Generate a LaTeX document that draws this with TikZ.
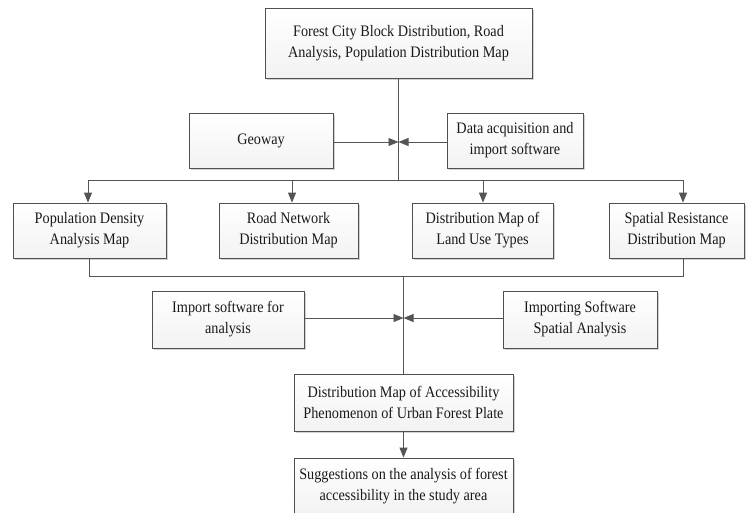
\documentclass[tikz,border=0pt]{standalone}
\usepackage{fontspec}
\setmainfont[FakeStretch=0.89]{Liberation Serif}
\usetikzlibrary{arrows.meta,shadows}
\definecolor{edge}{RGB}{80,80,80}
\definecolor{wire}{RGB}{85,85,85}
\tikzset{
  box/.style={draw=edge, line width=0.8pt, top color=white, bottom color=gray!10,
    drop shadow={shadow xshift=2pt, shadow yshift=-2pt, fill=gray!35, opacity=1},
    align=center, inner sep=2pt, font=\fontsize{16}{21}\selectfont,
    text=black!90},
  wireline/.style={draw=wire, line width=0.9pt},
  arr/.style={wireline, -{Triangle[length=10pt,width=8pt]}}
}
\begin{document}
\begin{tikzpicture}[x=1pt,y=-1pt]
\useasboundingbox (0,0) rectangle (747,512);
\node[box, minimum width=267pt, minimum height=70pt] (top) at (398.5,43)
  {Forest City Block Distribution, Road\\Analysis, Population Distribution Map};
\node[box, minimum width=144pt, minimum height=55pt] (geo) at (261,140.5) {Geoway};
\node[box, minimum width=136pt, minimum height=55pt] (data) at (515,140.5)
  {Data acquisition and\\import software};
\node[box, minimum width=153pt, minimum height=55pt] (pop) at (89.5,230.5)
  {Population Density\\Analysis Map};
\node[box, minimum width=139pt, minimum height=55pt] (road) at (288.5,230.5)
  {Road Network\\Distribution Map};
\node[box, minimum width=141pt, minimum height=55pt] (land) at (482.5,230.5)
  {Distribution Map of\\Land Use Types};
\node[box, minimum width=135pt, minimum height=55pt] (spat) at (676.5,230.5)
  {Spatial Resistance\\Distribution Map};
\node[box, minimum width=152pt, minimum height=57pt] (imp) at (228,319.5)
  {Import software for\\analysis};
\node[box, minimum width=154pt, minimum height=57pt] (impsp) at (580,319.5)
  {Importing Software\\Spatial Analysis};
\node[box, minimum width=219pt, minimum height=57pt] (acc) at (403.5,402.5)
  {Distribution Map of Accessibility\\Phenomenon of Urban Forest Plate};
\node[box, minimum width=219pt, minimum height=57pt] (sug) at (403.5,486.5)
  {Suggestions on the analysis of forest\\accessibility in the study area};
% junctions
\coordinate (j1) at (398.5,142);
\coordinate (busL) at (88,180);
\coordinate (busR) at (683,180);
\coordinate (bus0) at (398.5,180);
\coordinate (b2) at (292,180);
\coordinate (b3) at (483,180);
\coordinate (lowL) at (89.5,276);
\coordinate (lowR) at (683,276);
\coordinate (j2) at (403.5,318);
% upper part
\draw[wireline] (top.south) -- (bus0);
\draw[arr] (geo.east |- j1) -- (j1);
\draw[arr] (data.west |- j1) -- (j1);
\draw[wireline] (busL) -- (busR);
\draw[arr] (busL) -- (busL |- pop.north);
\draw[arr] (b2) -- (b2 |- road.north);
\draw[arr] (b3) -- (b3 |- land.north);
\draw[arr] (busR) -- (busR |- spat.north);
% lower part
\draw[wireline] (pop.south) -- (lowL) -- (lowR) -- (lowR |- spat.south);
\draw[wireline] (lowL -| acc.north) -- (acc.north);
\draw[arr] (imp.east |- j2) -- (j2);
\draw[arr] (impsp.west |- j2) -- (j2);
\draw[arr] (acc.south) -- (sug.north);
\end{tikzpicture}
\end{document}
